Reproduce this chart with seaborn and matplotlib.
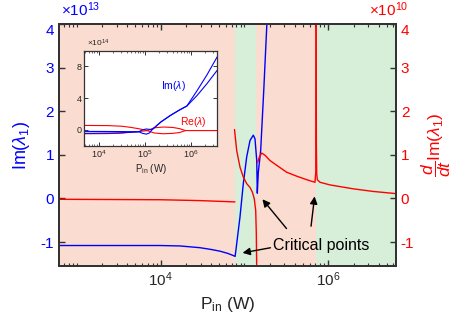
import matplotlib
matplotlib.use('Agg')
import matplotlib.pyplot as plt
import seaborn as sns
from matplotlib.ticker import LogLocator, NullFormatter

# ---- main panel data (P_in in W) ----
# Im(lambda_1), units of 1e13
im_p = [611, 3.2e3, 9.8e3, 1.7e4, 2.94e4, 3.98e4, 5.1e4, 6.3e4, 7.35e4, 7.73e4,
        8.83e4, 9.68e4, 1.062e5, 1.164e5, 1.274e5, 1.334e5, 1.40e5, 1.422e5,
        1.462e5, 1.56e5, 1.70e5, 1.86e5]
im_val = [-1.08, -1.08, -1.08, -1.09, -1.13, -1.17, -1.21, -1.26, -1.31, -1.33,
          -0.43, 0.34, 0.95, 1.33, 1.45, 1.37, 0.87, 0.12,
          0.6, 1.1, 2.5, 4.1]

# d/dt Im(lambda_1), units of 1e10, four branches
dim1_p = [611, 9.8e3, 2.94e4, 7.7e4]
dim1_val = [-0.02, -0.03, -0.05, -0.08]
dim2_p = [7.6e4, 8.07e4, 8.83e4, 9.68e4, 1.062e5, 1.164e5, 1.239e5, 1.309e5,
          1.361e5, 1.384e5, 1.40e5]
dim2_val = [1.58, 1.10, 0.72, 0.49, 0.34, 0.25, 0.15, -0.01, -0.28, -0.81, -1.7]
dim3_p = [1.439e5, 1.503e5, 1.603e5, 1.758e5, 2.014e5, 2.421e5, 3.192e5, 4.198e5,
          5.521e5, 6.934e5, 7.096e5, 7.129e5]
dim3_val = [0.83, 0.95, 1.04, 0.99, 0.87, 0.76, 0.60, 0.51, 0.43, 0.37, 0.6, 4.2]
dim4_p = [7.161e5, 7.211e5, 7.278e5, 7.396e5, 7.962e5, 1.047e6, 1.986e6, 3.443e6, 6.43e6]
dim4_val = [4.2, 1.2, 0.57, 0.43, 0.37, 0.31, 0.22, 0.16, 0.11]

# shaded regions
region_edges = [611, 7.76e4, 1.37e5, 7.13e5, 6.43e6]
region_colors = ['#FADCD0', '#D7EED9', '#FADCD0', '#D7EED9']

# arrows: (tip, tail)
arrow_tips = [(8.8e4, -1.26), (1.56e5, 0.03), (6.93e5, 0.11)]
arrow_tails = [(2.2e5, -1.12), (3.33e5, -0.74), (6.17e5, -0.70)]

y_ticks = [-1, 0, 1, 2, 3, 4]
y_ticklabels = ['-1', '0', '1', '2', '3', '4']

# ---- inset data (units of 1e14) ----
re_up_p = [4842, 1.585e4, 3.16e4, 5.01e4, 7.94e4, 1.122e5, 1.585e5, 2.512e5, 3.981e5,
           5.623e5, 7.586e5, 3.69e6]
re_up_val = [0.55, 0.53, 0.45, 0.3, 0.1, -0.1, 0.25, 0.35, 0.3, 0.15, -0.1, -0.1]
re_lo_p = [4842, 1.585e4, 3.16e4, 5.01e4, 7.94e4, 1.122e5, 1.585e5, 2.512e5, 3.981e5,
           5.623e5, 7.586e5]
re_lo_val = [-0.5, -0.48, -0.42, -0.3, -0.2, -0.1, -0.4, -0.5, -0.45, -0.35, -0.1]
im_a_p = [4842, 2.51e4, 7.41e4, 8.91e4, 1.072e5, 1.259e5, 1.419e5, 2.239e5, 3.548e5,
          5.623e5, 8.128e5, 1.34e6, 2.203e6, 3.69e6]
im_a_val = [-0.2, -0.22, -0.25, 0.0, 0.1, 0.05, 0.0, 1.0, 1.8, 2.5, 3.0, 4.9, 6.9, 9.2]
im_b_val = [-0.45, -0.4, -0.25, -0.45, -0.55, -0.4, 0.0, 1.0, 1.8, 2.5, 3.0, 4.3, 5.8, 7.5]

sns.set_theme(style='ticks')
plt.rcParams['font.family'] = ['Liberation Sans', 'DejaVu Sans']
plt.rcParams['mathtext.fontset'] = 'custom'
plt.rcParams['mathtext.rm'] = 'Liberation Sans'
plt.rcParams['mathtext.it'] = 'Liberation Sans:italic'
plt.rcParams['mathtext.bf'] = 'Liberation Sans:bold'

BLUE = '#0000FF'
RED = '#FF0000'
SPINE = '#333333'

fig = plt.figure(figsize=(4.63, 3.18), dpi=100)
ax = fig.add_axes([0.1274, 0.1635, 0.7279, 0.761])
ax.set_xscale('log')
ax.set_xlim(611, 6.43e6)
ax.set_ylim(-1.55, 4)

for i, c in enumerate(region_colors):
    ax.axvspan(region_edges[i], region_edges[i + 1], color=c, lw=0, zorder=0)

sns.lineplot(x=im_p, y=im_val, ax=ax, color=BLUE, lw=1.0, sort=False, estimator=None)

ax2 = ax.twinx()
ax2.set_ylim(-1.55, 4)
for px, pv in [(dim1_p, dim1_val), (dim2_p, dim2_val), (dim3_p, dim3_val), (dim4_p, dim4_val)]:
    sns.lineplot(x=px, y=pv, ax=ax2, color=RED, lw=1.0, sort=False, estimator=None)

ax.set_xticks([1e4, 1e6])
ax.set_xticklabels(['10$^4$', '10$^6$'])
ax.xaxis.set_minor_locator(LogLocator(base=10, subs=range(1, 10), numticks=20))
ax.xaxis.set_minor_formatter(NullFormatter())
ax.set_yticks(y_ticks)
ax2.set_yticks(y_ticks)
ax.set_yticklabels(y_ticklabels)
ax2.set_yticklabels(y_ticklabels)
# top labels sit just under the top spine
ax.get_yticklabels()[-1].set_va('top')
ax2.get_yticklabels()[-1].set_va('top')

ax.tick_params(which='both', direction='in', top=True, right=False, color=SPINE, labelsize=11)
ax.tick_params(which='major', length=4, width=1)
ax.tick_params(which='minor', length=2, width=0.8)
ax.tick_params(axis='y', labelcolor=BLUE)
ax2.tick_params(axis='y', direction='in', length=4, width=1, color=SPINE, labelcolor=RED, labelsize=11)
for a in (ax, ax2):
    for s in a.spines.values():
        s.set_color(SPINE)
        s.set_linewidth(1.4)

ax.set_xlabel('P$_{\\rm in}$ (W)', fontsize=12.5, labelpad=4)
ax.set_ylabel('Im($\\lambda_1$)', color=BLUE, fontsize=13, labelpad=6)
ax2.set_ylabel('$\\dfrac{d}{dt}$Im($\\lambda_1$)', color=RED, fontsize=12.5, labelpad=4)
ax.text(0.006, 1.02, '$\\times$10$^{13}$', color=BLUE, fontsize=11, transform=ax.transAxes,
        ha='left', va='bottom')
ax2.text(1.036, 1.02, '$\\times$10$^{10}$', color=RED, fontsize=11, transform=ax2.transAxes,
         ha='right', va='bottom')

for tip, tail in zip(arrow_tips, arrow_tails):
    ax2.annotate('', xy=tip, xytext=tail,
                 arrowprops=dict(arrowstyle='-|>', color='black', lw=1.0, mutation_scale=11))
ax2.text(8.3e5, -1.08, 'Critical points', fontsize=11.5, ha='center', va='center', color='black')

# ---- inset ----
axin = fig.add_axes([0.182, 0.542, 0.287, 0.299])
axin.set_facecolor('white')
axin.set_xscale('log')
axin.set_xlim(4842, 3.69e6)
axin.set_ylim(-2, 10)
sns.lineplot(x=re_up_p, y=re_up_val, ax=axin, color=RED, lw=0.8, sort=False, estimator=None)
sns.lineplot(x=re_lo_p, y=re_lo_val, ax=axin, color=RED, lw=0.8, sort=False, estimator=None)
sns.lineplot(x=im_a_p, y=im_a_val, ax=axin, color=BLUE, lw=0.8, sort=False, estimator=None)
sns.lineplot(x=im_a_p, y=im_b_val, ax=axin, color=BLUE, lw=0.8, sort=False, estimator=None)
axin.set_xticks([1e4, 1e5, 1e6])
axin.set_xticklabels(['10$^4$', '10$^5$', '10$^6$'])
axin.xaxis.set_minor_locator(LogLocator(base=10, subs=range(1, 10), numticks=20))
axin.xaxis.set_minor_formatter(NullFormatter())
axin.set_yticks([0, 4, 8])
axin.tick_params(which='both', direction='in', top=True, right=True, labelsize=6.5, pad=2,
                 color=SPINE)
axin.tick_params(which='major', length=3, width=0.7)
axin.tick_params(which='minor', length=1.5, width=0.5)
for s in axin.spines.values():
    s.set_color(SPINE)
    s.set_linewidth(0.9)
axin.set_xlabel('P$_{\\rm in}$ (W)', fontsize=7, labelpad=1)
axin.set_ylabel('')
axin.text(0.02, 1.02, '$\\times$10$^{14}$', fontsize=6, transform=axin.transAxes,
          ha='left', va='bottom')
axin.text(4.1e5, 5.5, 'Im($\\lambda$)', color=BLUE, fontsize=7.5, ha='center', va='center')
axin.text(1.1e6, 1.0, 'Re($\\lambda$)', color=RED, fontsize=7.5, ha='center', va='center')

fig.savefig('out.png', dpi=100)
